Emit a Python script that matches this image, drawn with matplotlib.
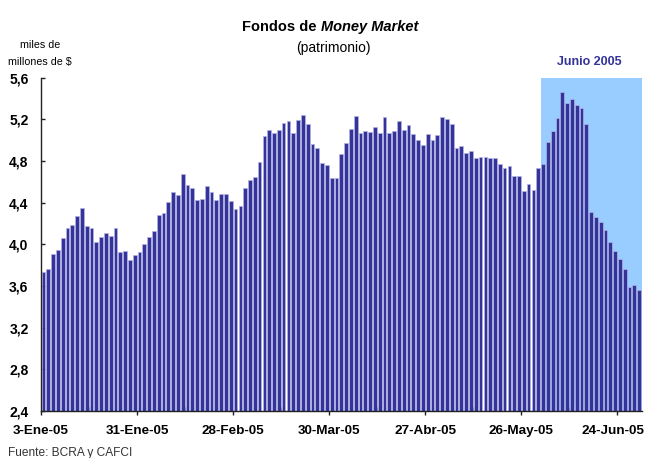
import matplotlib
matplotlib.use('Agg')
import matplotlib.pyplot as plt
from matplotlib.ticker import FixedLocator, FuncFormatter
from matplotlib.transforms import ScaledTranslation

plt.rcParams['font.family'] = ['Liberation Sans', 'DejaVu Sans']

# patrimonio diario, miles de millones de $ (3-Ene-05 .. 30-Jun-05)
valores = [
    3.73, 3.76, 3.91, 3.95, 4.06, 4.16, 4.19, 4.27, 4.35, 4.18,
    4.16, 4.02, 4.07, 4.11, 4.08, 4.16, 3.93, 3.94, 3.85, 3.90,
    3.93, 4.00, 4.07, 4.13, 4.28, 4.30, 4.41, 4.50, 4.47, 4.68,
    4.57, 4.54, 4.43, 4.44, 4.56, 4.50, 4.43, 4.48, 4.48, 4.42,
    4.34, 4.37, 4.54, 4.62, 4.65, 4.79, 5.04, 5.10, 5.07, 5.10,
    5.17, 5.18, 5.07, 5.19, 5.24, 5.16, 4.96, 4.93, 4.78, 4.76,
    4.64, 4.64, 4.87, 4.97, 5.11, 5.23, 5.07, 5.09, 5.08, 5.13,
    5.07, 5.22, 5.07, 5.09, 5.18, 5.10, 5.15, 5.06, 5.00, 4.95,
    5.06, 5.00, 5.05, 5.22, 5.20, 5.16, 4.93, 4.94, 4.88, 4.90,
    4.83, 4.84, 4.84, 4.83, 4.83, 4.77, 4.73, 4.75, 4.66, 4.66,
    4.51, 4.58, 4.52, 4.73, 4.77, 4.98, 5.09, 5.21, 5.46, 5.36,
    5.40, 5.34, 5.31, 5.16, 4.31, 4.26, 4.21, 4.14, 4.02, 3.94,
    3.86, 3.76, 3.59, 3.61, 3.56,
]
fechas = ['3-Ene-05', '31-Ene-05', '28-Feb-05', '30-Mar-05',
          '27-Abr-05', '26-May-05', '24-Jun-05']
paso_fechas = 20      # dias habiles entre etiquetas
inicio_junio = 104    # primer dia habil de junio
y_ticks = [2.4, 2.8, 3.2, 3.6, 4.0, 4.4, 4.8, 5.2, 5.6]

azul = '#333399'

fig = plt.figure(figsize=(6.48, 4.58), dpi=100)
ax = fig.add_axes([0.0633, 0.1026, 0.9267, 0.7277])

n = len(valores)
x = list(range(n))
ax.axvspan(inicio_junio - 0.5, n - 0.5, color='#99ccff', zorder=0, lw=0)
ax.bar(x, valores, width=0.78, color=azul, edgecolor='#b4b4e4',
       linewidth=0.5, zorder=2)

ax.set_xlim(-0.5, n - 0.5)
ax.set_ylim(2.4, 5.6)

for s in ['top', 'right']:
    ax.spines[s].set_visible(False)
for s in ['left', 'bottom']:
    ax.spines[s].set_color('#222222')
    ax.spines[s].set_linewidth(1.0)
    ax.spines[s].set_zorder(3)

ax.yaxis.set_major_locator(FixedLocator(y_ticks))
ax.yaxis.set_major_formatter(FuncFormatter(lambda v, p: ('%.1f' % v).replace('.', ',')))
ax.tick_params(axis='y', direction='in', length=3, width=1, color='#222222',
               pad=9, labelsize=10)
for lab in ax.get_yticklabels():
    lab.set_fontweight('bold')

major_pos = [-0.5 + paso_fechas * i for i in range(len(fechas))]
minor_pos = [p + paso_fechas / 2 for p in major_pos if p + paso_fechas / 2 < n - 0.5]
ax.set_xticks(major_pos)
ax.set_xticklabels(fechas, fontweight='bold', fontsize=9.7)
ax.set_xticks(minor_pos, minor=True)
ax.tick_params(axis='x', which='major', direction='out', length=3, width=1,
               color='#222222', pad=7)
ax.tick_params(axis='x', which='minor', direction='in', length=3, width=1,
               color='#222222')
# la ultima etiqueta queda pegada al borde derecho: correrla un poco
ultima = ax.get_xticklabels()[-1]
ultima.set_transform(ultima.get_transform()
                     + ScaledTranslation(-3 / 72, 0, fig.dpi_scale_trans))

fig.text(0.489, 0.942, 'Fondos de', ha='right', va='center',
         fontsize=10.5, fontweight='bold')
fig.text(0.495, 0.942, 'Money Market', ha='left', va='center',
         fontsize=10.5, fontweight='bold', style='italic')
fig.text(0.515, 0.896, '(patrimonio)', ha='center', va='center', fontsize=10)

fig.text(0.062, 0.901, 'miles de', ha='center', va='center', fontsize=7.7)
fig.text(0.062, 0.864, 'millones de $', ha='center', va='center', fontsize=7.7)

fig.text(0.909, 0.864, 'Junio 2005', ha='center', va='center', fontsize=9,
         fontweight='bold', color=azul)

fig.text(0.012, 0.012, 'Fuente: BCRA y CAFCI', ha='left', va='center',
         fontsize=8.6, color='#333333')

fig.savefig('out.png', dpi=100)
